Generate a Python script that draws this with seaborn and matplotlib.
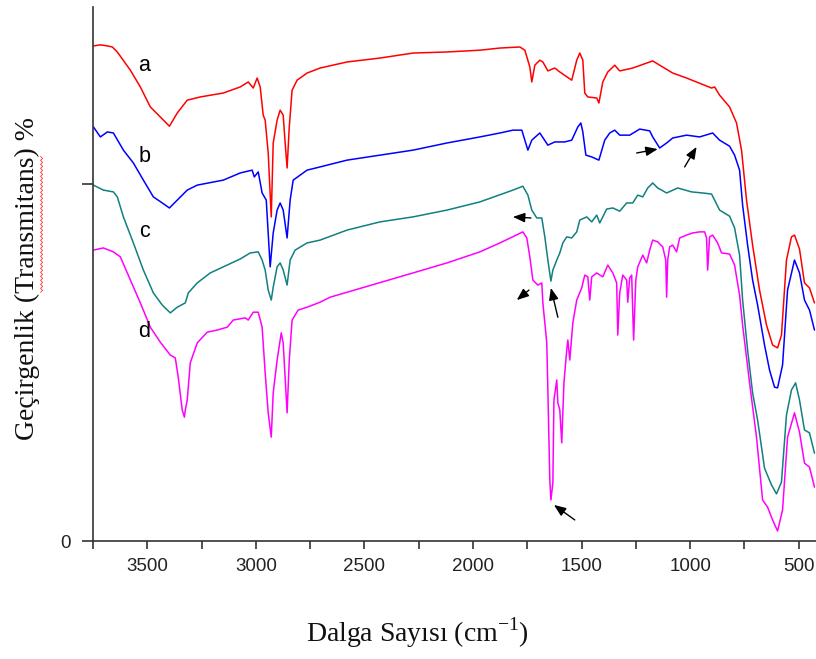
import numpy as np
import pandas as pd
import matplotlib
matplotlib.use("Agg")
import matplotlib.pyplot as plt
import seaborn as sns
from matplotlib.ticker import MultipleLocator, FixedLocator
from matplotlib.lines import Line2D

# FTIR spectra: (wavenumber cm-1, transmittance, offset per sample)
spectrum_a = [
    (3748, 138.7), (3716, 139.0), (3684, 138.7), (3661, 138.4), (3638, 137.0),
    (3578, 131.9), (3532, 127.2), (3486, 121.6), (3440, 118.8), (3398, 116.2),
    (3362, 119.9), (3316, 123.5), (3256, 124.4), (3150, 125.5), (3072, 127.2),
    (3035, 128.6), (3012, 126.9), (2994, 129.7), (2980, 127.2), (2966, 119.3),
    (2957, 117.9), (2943, 108.7), (2929, 90.8), (2920, 111.5), (2902, 117.9),
    (2888, 120.7), (2874, 119.3), (2865, 111.5), (2856, 104.5), (2846, 116.0),
    (2833, 126.3), (2810, 129.1), (2764, 131.1), (2704, 132.5), (2580, 134.2),
    (2428, 135.3), (2276, 136.7), (2120, 137.0), (1968, 137.5), (1876, 138.1),
    (1784, 138.4), (1761, 137.5), (1738, 132.8), (1729, 128.6), (1715, 133.3),
    (1692, 134.7), (1678, 134.2), (1655, 131.7), (1623, 132.5), (1600, 131.4),
    (1545, 129.1), (1522, 134.7), (1508, 136.7), (1494, 134.7), (1485, 125.5),
    (1471, 124.4), (1430, 124.1), (1420, 122.7), (1402, 128.6), (1379, 131.4),
    (1347, 133.3), (1324, 131.7), (1264, 132.5), (1172, 134.5), (1140, 133.3),
    (1080, 131.1), (1016, 129.7), (901, 126.9), (887, 127.2), (864, 124.9),
    (818, 121.6), (786, 117.1), (763, 109.5), (740, 95.5), (712, 82.9),
    (680, 70.3), (648, 60.5), (620, 54.9), (597, 54.1), (579, 57.7),
    (556, 78.7), (533, 85.2), (519, 85.7), (496, 81.8), (473, 72.3),
    (450, 70.9), (427, 66.7),
]

spectrum_b = [
    (3748, 116.0), (3716, 113.2), (3684, 114.6), (3656, 114.3), (3610, 109.5),
    (3564, 105.9), (3518, 101.1), (3472, 96.4), (3431, 94.7), (3398, 93.3),
    (3362, 95.5), (3316, 98.3), (3270, 99.7), (3150, 101.1), (3072, 103.1),
    (3017, 103.9), (3007, 102.0), (2989, 103.4), (2971, 97.5), (2952, 95.5),
    (2934, 76.8), (2920, 86.3), (2902, 92.7), (2888, 94.7), (2874, 92.7),
    (2856, 84.9), (2842, 95.5), (2828, 101.1), (2764, 103.9), (2704, 104.8),
    (2580, 106.7), (2428, 108.1), (2276, 109.5), (2120, 111.5), (1968, 113.2),
    (1876, 114.3), (1816, 115.1), (1775, 115.1), (1761, 112.3), (1747, 109.5),
    (1729, 112.3), (1692, 114.3), (1655, 110.9), (1623, 111.8), (1577, 111.8),
    (1545, 112.3), (1517, 116.0), (1503, 117.1), (1494, 114.6), (1480, 108.1),
    (1453, 107.6), (1420, 106.7), (1393, 112.3), (1370, 114.3), (1347, 115.1),
    (1324, 113.7), (1278, 113.7), (1232, 115.4), (1186, 114.9), (1172, 113.2),
    (1140, 110.1), (1108, 111.5), (1080, 112.9), (1016, 113.7), (956, 113.2),
    (896, 114.3), (864, 112.3), (818, 110.6), (795, 108.1), (772, 103.9),
    (758, 94.1), (735, 82.9), (712, 73.1), (689, 66.1), (657, 54.9),
    (634, 47.9), (611, 43.1), (597, 42.9), (574, 49.3), (551, 70.3),
    (519, 78.7), (496, 75.1), (473, 67.5), (450, 64.7), (427, 59.1),
]

spectrum_c = [
    (3748, 99.7), (3702, 98.3), (3656, 97.8), (3638, 96.4), (3610, 90.8),
    (3564, 83.5), (3518, 75.9), (3472, 69.5), (3431, 66.1), (3394, 63.9),
    (3362, 65.5), (3325, 66.7), (3311, 69.5), (3270, 72.3), (3210, 75.1),
    (3150, 76.8), (3072, 79.0), (3026, 80.7), (2989, 81.0), (2971, 78.7),
    (2957, 75.9), (2943, 70.3), (2929, 67.5), (2920, 71.1), (2902, 76.8),
    (2888, 77.9), (2874, 75.9), (2856, 71.7), (2842, 78.7), (2819, 81.5),
    (2764, 83.5), (2704, 84.3), (2580, 87.1), (2428, 89.4), (2276, 90.8),
    (2120, 92.7), (1968, 95.0), (1816, 98.3), (1770, 99.4), (1747, 96.9),
    (1729, 92.7), (1706, 90.5), (1683, 90.5), (1669, 85.2), (1655, 78.7),
    (1641, 72.8), (1632, 75.9), (1614, 78.7), (1600, 80.7), (1586, 83.5),
    (1568, 85.2), (1545, 84.9), (1522, 86.6), (1508, 89.9), (1476, 90.8),
    (1453, 89.4), (1430, 91.3), (1416, 89.1), (1384, 93.0), (1356, 93.3),
    (1324, 92.4), (1292, 94.7), (1264, 94.7), (1241, 96.9), (1218, 96.4),
    (1195, 98.9), (1172, 100.3), (1149, 98.9), (1108, 97.5), (1057, 98.9),
    (993, 97.8), (942, 97.5), (901, 97.2), (887, 95.5), (864, 92.7),
    (818, 91.0), (795, 87.7), (772, 80.1), (758, 67.5), (735, 53.5),
    (712, 41.5), (689, 33.9), (657, 20.4), (625, 15.7), (602, 13.2),
    (579, 16.5), (556, 35.3), (533, 42.3), (514, 44.3), (496, 39.5),
    (473, 31.1), (450, 30.3), (427, 24.6),
]

spectrum_d = [
    (3748, 81.5), (3702, 82.1), (3656, 81.0), (3624, 79.6), (3592, 75.1),
    (3532, 66.7), (3486, 59.9), (3440, 55.7), (3394, 52.1), (3371, 51.3),
    (3357, 45.7), (3339, 36.7), (3329, 34.7), (3325, 36.7), (3316, 39.5),
    (3302, 49.9), (3270, 55.5), (3224, 58.5), (3178, 59.1), (3132, 59.9),
    (3104, 61.9), (3049, 62.5), (3035, 61.9), (3012, 64.1), (2989, 64.1),
    (2971, 59.9), (2957, 47.1), (2943, 35.9), (2929, 29.1), (2920, 41.5),
    (2902, 50.7), (2883, 58.3), (2874, 55.5), (2856, 35.9), (2846, 50.7),
    (2833, 61.9), (2805, 64.7), (2764, 65.5), (2704, 66.9), (2658, 68.3),
    (2276, 75.1), (2120, 77.9), (1968, 81.0), (1876, 83.5), (1770, 86.6),
    (1752, 84.9), (1738, 79.6), (1724, 73.1), (1701, 71.7), (1683, 72.3),
    (1678, 66.7), (1660, 55.5), (1655, 42.3), (1646, 17.1), (1641, 11.5),
    (1632, 16.2), (1627, 39.5), (1614, 45.1), (1609, 38.7), (1600, 36.7),
    (1591, 27.5), (1581, 44.3), (1568, 53.5), (1563, 56.3), (1554, 50.7),
    (1540, 61.1), (1522, 67.5), (1499, 70.9), (1485, 74.5), (1471, 74.0),
    (1462, 67.5), (1453, 74.0), (1430, 75.1), (1402, 74.0), (1379, 77.3),
    (1356, 75.1), (1338, 72.3), (1333, 57.7), (1324, 69.5), (1310, 74.5),
    (1292, 73.1), (1287, 66.9), (1278, 73.7), (1269, 74.5), (1260, 56.3),
    (1250, 73.1), (1241, 76.8), (1218, 80.1), (1200, 77.9), (1186, 81.5),
    (1172, 84.3), (1149, 83.8), (1126, 82.4), (1112, 78.7), (1108, 68.3),
    (1103, 78.7), (1094, 82.4), (1080, 82.9), (1062, 81.0), (1048, 84.9),
    (1016, 85.7), (988, 86.3), (956, 86.6), (933, 86.6), (924, 84.9),
    (919, 75.9), (910, 85.2), (896, 85.7), (873, 83.5), (855, 80.7),
    (818, 80.4), (795, 77.3), (772, 68.9), (758, 60.5), (726, 44.3),
    (694, 29.1), (666, 11.5), (643, 9.5), (620, 5.9), (597, 2.8),
    (574, 8.7), (551, 29.1), (519, 35.9), (496, 30.5), (473, 21.8),
    (450, 20.7), (427, 15.1),
]

sample_names = ["a", "b", "c", "d"]
sample_colors = ["#ff0000", "#0000ff", "#118080", "#ff00ff"]
# where each sample letter sits (wavenumber, transmittance)
label_pos = [(3513, 133.3), (3513, 107.8), (3513, 86.6), (3513, 58.8)]

# band markers: (tail wavenumber, tail T, head wavenumber, head T)
band_arrows = [
    (1246, 108.7, 1149, 109.8),
    (1025, 104.8, 970, 110.4),
    (1733, 90.5, 1816, 90.8),
    (1742, 70.3, 1798, 67.5),
    (1609, 62.7, 1641, 70.9),
    (1531, 5.9, 1627, 10.1),
]

x_label = "Dalga Sayısı (cm$^{\\mathrm{-1}}$)"
y_label = "Geçirgenlik (Transmitans) %"
misspelled_word = "Transmitans"

frames = []
for name, data in zip(sample_names, [spectrum_a, spectrum_b, spectrum_c, spectrum_d]):
    df = pd.DataFrame(data, columns=["wavenumber", "T"])
    df["sample"] = name
    frames.append(df)
spectra = pd.concat(frames, ignore_index=True)

sns.set_style("ticks")
plt.rcParams["font.family"] = ["Liberation Sans", "DejaVu Sans"]
plt.rcParams["mathtext.fontset"] = "custom"
plt.rcParams["mathtext.rm"] = "Liberation Serif"

W, H = 816, 659
fig = plt.figure(figsize=(W / 100, H / 100), dpi=100)
ax = fig.add_axes([93 / W, 118 / H, 723 / W, 534 / H])

sns.lineplot(
    data=spectra, x="wavenumber", y="T", hue="sample",
    palette=dict(zip(sample_names, sample_colors)),
    estimator=None, sort=False, linewidth=1.1, legend=False, ax=ax,
)

for name, (lx, ly) in zip(sample_names, label_pos):
    ax.text(lx, ly, name, fontsize=15.5, ha="center", va="center",
            family="Liberation Sans", color="black")

for x0, y0, x1, y1 in band_arrows:
    ax.annotate("", xy=(x1, y1), xytext=(x0, y0),
                arrowprops=dict(arrowstyle="-|>,head_length=0.55,head_width=0.22",
                                color="black", lw=1.0, mutation_scale=13,
                                shrinkA=0, shrinkB=0))

ax.set_xlim(3750, 420)
ax.set_ylim(0, 149.6)
ax.xaxis.set_major_locator(MultipleLocator(500))
ax.xaxis.set_minor_locator(MultipleLocator(250))
ax.yaxis.set_major_locator(FixedLocator([0, 100]))
ax.set_yticklabels(["0", ""])
ax.set_xlabel("")
ax.set_ylabel("")

for side in ["top", "right"]:
    ax.spines[side].set_visible(False)
for side in ["left", "bottom"]:
    ax.spines[side].set_color("#333333")
    ax.spines[side].set_linewidth(1.2)

ax.tick_params(axis="x", which="both", direction="out", length=6, width=1.2,
               colors="#333333", labelsize=13.5, pad=6, labelcolor="#222222")
ax.tick_params(axis="y", which="both", direction="out", length=8, width=1.2,
               colors="#333333", labelsize=13.5, pad=8, labelcolor="#222222")

label_font = dict(fontsize=20, family="Liberation Serif", color="#111111")
fig.text(417 / W, 1 - 633 / H, x_label, ha="center", va="center", **label_font)
ylab = fig.text(27 / W, 1 - 278 / H, y_label, ha="center", va="center",
                rotation=90, **label_font)

# red spell-check squiggle under the misspelled word of the y label
renderer = fig.canvas.get_renderer()


def text_len(s):
    t = fig.text(0, 0, s, **label_font)
    w = t.get_window_extent(renderer).width
    t.remove()
    return w


full_len = text_len(y_label)
start = y_label.index(misspelled_word)
pre_len = text_len(y_label[:start])
word_len = text_len(misspelled_word)
bbox = ylab.get_window_extent(renderer)
y_bottom = bbox.y0 + (bbox.height - full_len) / 2
y0 = y_bottom + pre_len
y1 = y0 + word_len
sq_y = np.arange(y0, y1, 2.0)
x_base = bbox.x1 + 1.0
sq_x = np.where(np.arange(sq_y.size) % 2 == 0, x_base, x_base + 2.0)
fig.add_artist(Line2D(sq_x / W, sq_y / H, transform=fig.transFigure,
                      color="#ff3030", lw=0.6))

fig.savefig("out.png", dpi=100)
